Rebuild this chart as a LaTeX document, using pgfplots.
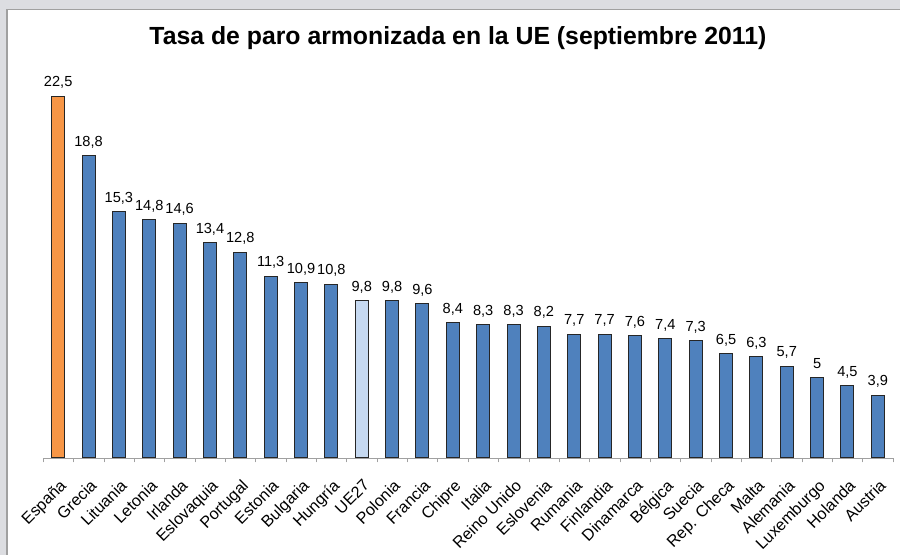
\documentclass[border=0pt]{standalone}
\usepackage{fontspec}
\setmainfont{Liberation Sans}
\usepackage{pgfplots}
\pgfplotsset{compat=1.18}
\definecolor{barblue}{HTML}{4F81BD}
\definecolor{barorange}{HTML}{F79646}
\definecolor{barlight}{HTML}{C6D9F1}
\definecolor{framegray}{HTML}{DCDDE1}
\definecolor{lineg}{HTML}{A0A0A0}

\begin{document}
\begin{tikzpicture}
  % frame of the chart window
  \useasboundingbox (0,0) rectangle (450pt,277.5pt);
  \fill[framegray] (0,0) rectangle (450pt,277.5pt);
  \fill[white] (3.5pt,0) rectangle (450pt,272.7pt);
  \draw[lineg, line width=0.6pt] (3.5pt,0) -- (3.5pt,272.7pt) -- (450pt,272.7pt);

  \node[font=\fontsize{12.4}{14}\selectfont\bfseries] at (229pt,258.5pt)
    {Tasa de paro armonizada en la UE (septiembre 2011)};

  \begin{axis}[
      at={(21.5pt,48.5pt)}, anchor=south west,
      scale only axis,
      width=425pt, height=199pt,
      ybar, bar width=6.5pt,
      xmin=-0.5, xmax=27.5,
      ymin=0, ymax=24.75,
      clip=false,
      axis x line*=bottom,
      axis y line=none,
      x axis line style={draw=lineg, -},
      xtick={0,...,27},
      xticklabels={España,Grecia,Lituania,Letonia,Irlanda,Eslovaquia,Portugal,Estonia,Bulgaria,Hungría,UE27,Polonia,Francia,Chipre,Italia,Reino Unido,Eslovenia,Rumania,Finlandia,Dinamarca,Bélgica,Suecia,Rep. Checa,Malta,Alemania,Luxemburgo,Holanda,Austria},
      major tick length=0pt,
      minor xtick={-0.5,0.5,...,27.5},
      minor tick length=2.2pt,
      tick align=outside,
      minor tick style={draw=lineg},
      xticklabel style={font=\fontsize{8.1}{9}\selectfont, inner sep=0pt,
        yshift=-10pt, xshift=0.3pt, rotate=45, anchor=north east},
      nodes near coords,
      nodes near coords style={font=\fontsize{7.3}{8}\selectfont, anchor=base,
        inner sep=0pt, yshift=4.7pt,
        /pgf/number format/use comma,
        /pgf/number format/assume math mode=true},
      every axis plot/.append style={draw=black!85, line width=0.5pt, bar shift=0pt},
    ]
    \addplot[fill=barorange] coordinates {(0,22.5)};
    \addplot[fill=barblue] coordinates {
      (1,18.8) (2,15.3) (3,14.8) (4,14.6) (5,13.4) (6,12.8) (7,11.3)
      (8,10.9) (9,10.8) (11,9.8) (12,9.6) (13,8.4) (14,8.3) (15,8.3)
      (16,8.2) (17,7.7) (18,7.7) (19,7.6) (20,7.4) (21,7.3) (22,6.5)
      (23,6.3) (24,5.7) (25,5) (26,4.5) (27,3.9)
    };
    \addplot[fill=barlight] coordinates {(10,9.8)};
  \end{axis}
\end{tikzpicture}
\end{document}
